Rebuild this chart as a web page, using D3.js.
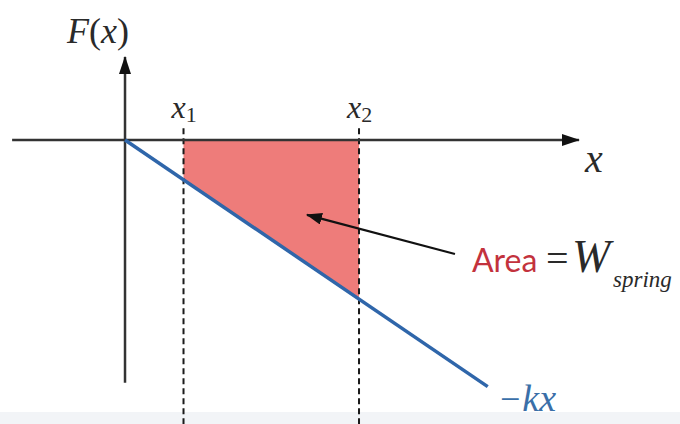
<!DOCTYPE html>
<html>
<head>
<meta charset="utf-8">
<script src="https://cdn.jsdelivr.net/npm/d3@7"></script>
<style>
  html, body { margin: 0; padding: 0; background: #fff; }
  svg { display: block; }
  .serif { font-family: "Liberation Serif", "Times New Roman", "DejaVu Serif", "Noto Serif", serif; }
</style>
</head>
<body>
<script>
// data (units along x; force F = -k x)
var bounds = [1, 4];                 // x1, x2
var boundLabels = ["1", "2"];        // subscripts
var k = 0.68;
var lineXs = [0, 6.2];               // extent of the -kx line
var xAxisExtent = [-1.93, 7.76];
var yAxisExtent = [-4.15, 1.42];
var arrowFrom = [5.64, -1.95];
var arrowTo = [3.11, -1.28];

const WIDTH = 680;
const HEIGHT = 424;

var xScale = d3.scaleLinear().domain([-2.137, 9.487]).range([0, WIDTH]);
var yScale = d3.scaleLinear().domain([2.393, -4.855]).range([0, HEIGHT]);

var svg = d3.select("body").append("svg")
  .attr("width", WIDTH)
  .attr("height", HEIGHT);

var defs = svg.append("defs");
defs.append("marker")
  .attr("id", "axisHead")
  .attr("viewBox", "0 0 18 12")
  .attr("refX", 17).attr("refY", 6)
  .attr("markerWidth", 18).attr("markerHeight", 12)
  .attr("markerUnits", "userSpaceOnUse")
  .attr("orient", "auto")
  .append("path").attr("d", "M0,0 L18,6 L0,12 Z").attr("fill", "#111");

defs.append("marker")
  .attr("id", "noteHead")
  .attr("viewBox", "0 0 16 12")
  .attr("refX", 15).attr("refY", 6)
  .attr("markerWidth", 16).attr("markerHeight", 12)
  .attr("markerUnits", "userSpaceOnUse")
  .attr("orient", "auto")
  .append("path").attr("d", "M0,0 L16,6 L0,12 Z").attr("fill", "#111");

// faint band at the bottom
svg.append("rect")
  .attr("x", 0).attr("y", 412)
  .attr("width", WIDTH).attr("height", HEIGHT - 412)
  .attr("fill", "#f2f4f7");

// shaded area between x1 and x2
var area = d3.area()
  .x(function (d) { return xScale(d); })
  .y0(yScale(0))
  .y1(function (d) { return yScale(-k * d); });
svg.append("path")
  .attr("d", area(bounds))
  .attr("fill", "#ee7c7a");

// dashed verticals
svg.selectAll(".bound").data(bounds).enter().append("line")
  .attr("class", "bound")
  .attr("x1", function (d) { return xScale(d); })
  .attr("x2", function (d) { return xScale(d); })
  .attr("y1", yScale(0.2))
  .attr("y2", HEIGHT)
  .attr("stroke", "#1a1a1a")
  .attr("stroke-width", 2)
  .attr("stroke-dasharray", "6,4");

// axes
svg.append("line")
  .attr("x1", xScale(xAxisExtent[0])).attr("x2", xScale(xAxisExtent[1]))
  .attr("y1", yScale(0)).attr("y2", yScale(0))
  .attr("stroke", "#333").attr("stroke-width", 2.5)
  .attr("marker-end", "url(#axisHead)");

svg.append("line")
  .attr("x1", xScale(0)).attr("x2", xScale(0))
  .attr("y1", yScale(yAxisExtent[0])).attr("y2", yScale(yAxisExtent[1]))
  .attr("stroke", "#333").attr("stroke-width", 2.5)
  .attr("marker-end", "url(#axisHead)");

// -kx line
var line = d3.line()
  .x(function (d) { return xScale(d); })
  .y(function (d) { return yScale(-k * d); });
svg.append("path")
  .attr("d", line(lineXs))
  .attr("fill", "none")
  .attr("stroke", "#2f66aa")
  .attr("stroke-width", 3.5);

// annotation arrow
svg.append("line")
  .attr("x1", xScale(arrowFrom[0])).attr("y1", yScale(arrowFrom[1]))
  .attr("x2", xScale(arrowTo[0])).attr("y2", yScale(arrowTo[1]))
  .attr("stroke", "#111").attr("stroke-width", 2.2)
  .attr("marker-end", "url(#noteHead)");

// labels
var fx = svg.append("text")
  .attr("class", "serif")
  .attr("x", 67).attr("y", 43)
  .attr("font-size", 36)
  .attr("fill", "#2a2a2a");
fx.append("tspan").attr("font-style", "italic").text("F");
fx.append("tspan").text("(");
fx.append("tspan").attr("font-style", "italic").text("x");
fx.append("tspan").text(")");

svg.selectAll(".blabel").data(bounds).enter().append("text")
  .attr("class", "blabel serif")
  .attr("x", function (d) { return xScale(d) - 12; })
  .attr("y", 118)
  .attr("font-size", 32)
  .attr("fill", "#2a2a2a")
  .each(function (d, i) {
    var t = d3.select(this);
    t.append("tspan").attr("font-style", "italic").text("x");
    t.append("tspan").attr("font-size", 22).attr("dy", 4).text(boundLabels[i]);
  });

svg.append("text")
  .attr("class", "serif")
  .attr("x", 585).attr("y", 172)
  .attr("font-size", 40)
  .attr("font-style", "italic")
  .attr("fill", "#2a2a2a")
  .text("x");

svg.append("text")
  .attr("x", 472).attr("y", 272)
  .attr("font-family", "Lato, 'Open Sans', sans-serif")
  .attr("font-size", 32)
  .attr("fill", "#c3323d")
  .text("Area");

var note = svg.append("text")
  .attr("class", "serif")
  .attr("x", 546).attr("y", 272)
  .attr("fill", "#2a2a2a");
note.append("tspan").attr("font-size", 40).text("=");
note.append("tspan").attr("x", 572).attr("font-size", 46).attr("font-style", "italic").text("W");
note.append("tspan").attr("x", 613).attr("dy", 15).attr("font-size", 23).attr("font-style", "italic").text("spring");

var kx = svg.append("text")
  .attr("class", "serif")
  .attr("x", 500).attr("y", 411)
  .attr("fill", "#3a6fa8");
kx.append("tspan").attr("font-size", 36).text("\u2212");
kx.append("tspan").attr("font-size", 38).attr("font-style", "italic").attr("dx", 2).text("kx");
</script>
</body>
</html>
